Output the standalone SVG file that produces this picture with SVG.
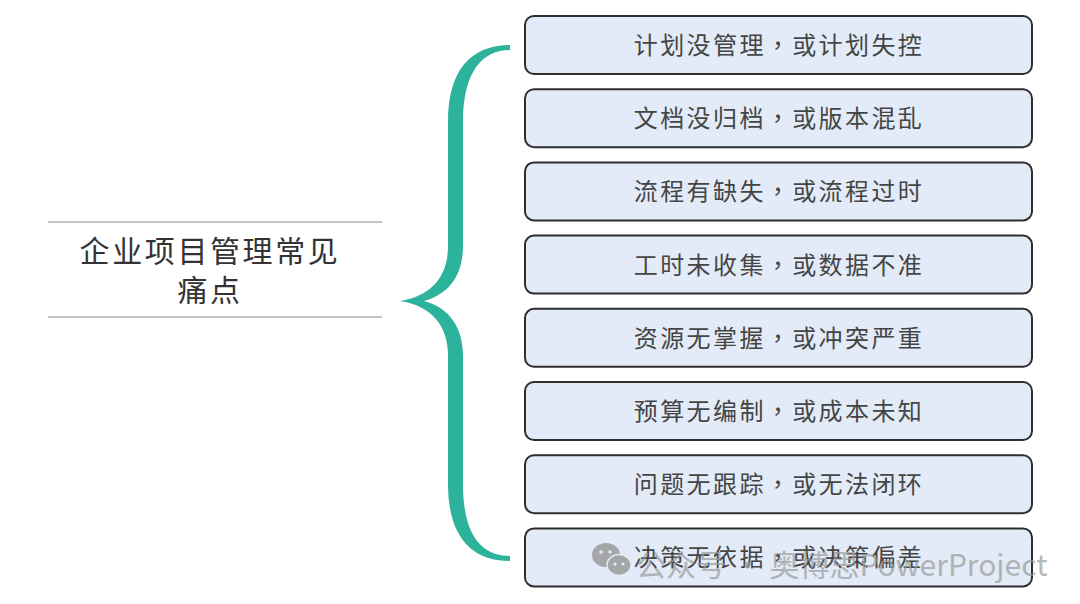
<svg xmlns="http://www.w3.org/2000/svg" width="1080" height="604" viewBox="0 0 1080 604">
<style>
.box{fill:#e2ebf7;stroke:#2e2e2e;stroke-width:2}
.t{font-family:"Noto Sans CJK TC","Noto Sans CJK SC","Noto Sans",sans-serif;font-size:24px;fill:#454545;text-anchor:middle;letter-spacing:2.4px}
.title{font-family:"Noto Sans CJK SC","Noto Sans",sans-serif;font-size:30px;fill:#333;text-anchor:middle;letter-spacing:2.6px}
.rule{stroke:#8a8a8a;stroke-width:1.2}
.wm{font-family:"Noto Sans CJK SC","Noto Sans",sans-serif;font-size:30px;fill:#999999;opacity:0.8}
</style>
<rect width="1080" height="604" fill="#ffffff"/>
<g id="title">
<line class="rule" x1="48" y1="222" x2="382" y2="222"/>
<line class="rule" x1="48" y1="317" x2="382" y2="317"/>
<text class="title" x="210" y="262">企业项目管理常见</text>
<text class="title" x="210" y="301">痛点</text>
</g>
<g id="connectors">
<path id="brace" fill="#2db39b" d="M510,45 C471,45 448,70 448,122 L448,246 C448,276 432,296 400,301 C432,306 448,326 448,356 L448,484 C448,536 471,561 510,561 L510,556 C482,556 463,536 463,484 L463,356 C463,328 450,308 424,301 C450,294 463,274 463,246 L463,122 C463,72 482,50 510,50 Z"/>
</g>
<g id="n1"><rect class="box" x="525" y="16" width="507" height="58" rx="9"/><text class="t" x="779" y="54">计划没管理，或计划失控</text></g>
<g id="n2"><rect class="box" x="525" y="89.2" width="507" height="58" rx="9"/><text class="t" x="779" y="127.2">文档没归档，或版本混乱</text></g>
<g id="n3"><rect class="box" x="525" y="162.4" width="507" height="58" rx="9"/><text class="t" x="779" y="200.4">流程有缺失，或流程过时</text></g>
<g id="n4"><rect class="box" x="525" y="235.6" width="507" height="58" rx="9"/><text class="t" x="779" y="273.6">工时未收集，或数据不准</text></g>
<g id="n5"><rect class="box" x="525" y="308.8" width="507" height="58" rx="9"/><text class="t" x="779" y="346.8">资源无掌握，或冲突严重</text></g>
<g id="n6"><rect class="box" x="525" y="382" width="507" height="58" rx="9"/><text class="t" x="779" y="420">预算无编制，或成本未知</text></g>
<g id="n7"><rect class="box" x="525" y="455.2" width="507" height="58" rx="9"/><text class="t" x="779" y="493.2">问题无跟踪，或无法闭环</text></g>
<g id="n8"><rect class="box" x="525" y="528.4" width="507" height="58" rx="9"/><text class="t" x="779" y="566.4">决策无依据，或决策偏差</text></g>
<g id="watermark" opacity="0.85">
<ellipse cx="606" cy="555" rx="14" ry="12" fill="#9a9a9a"/>
<ellipse cx="619" cy="565" rx="12" ry="10.5" fill="#9a9a9a" stroke="#e2ebf7" stroke-width="1.5"/>
<circle cx="601" cy="552" r="1.8" fill="#e2ebf7"/><circle cx="610" cy="552" r="1.8" fill="#e2ebf7"/>
<circle cx="615" cy="564" r="1.6" fill="#e2ebf7"/><circle cx="623" cy="564" r="1.6" fill="#e2ebf7"/>
<text class="wm" x="636" y="576">公众号 · 奥博思PowerProject</text>
</g>
</svg>
